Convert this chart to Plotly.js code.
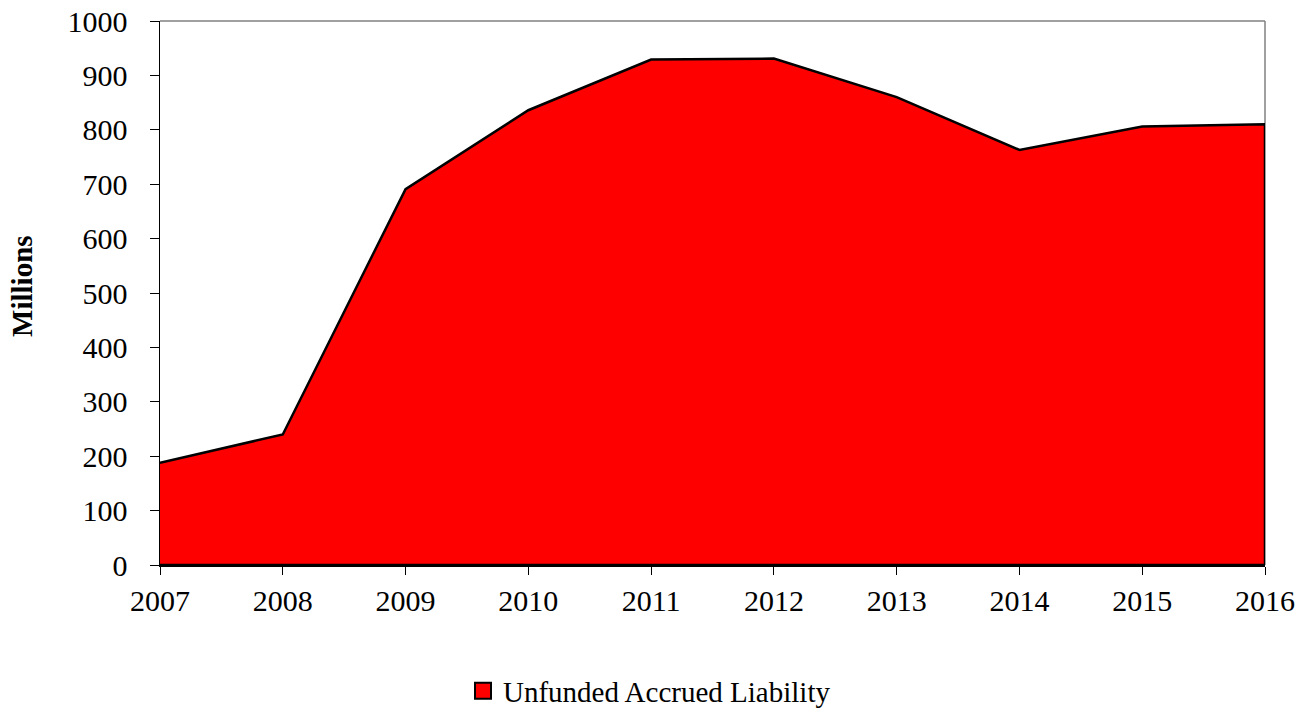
<!DOCTYPE html>
<html>
<head>
<meta charset="utf-8">
<script src="https://cdn.plot.ly/plotly-3.0.1.min.js"></script>
<style>
  html, body { margin: 0; padding: 0; background: #ffffff; }
  #chart { width: 1311px; height: 708px; }
</style>
</head>
<body>
<div id="chart"></div>
<script>
// Unfunded accrued liability by year, in millions
const years = [2007, 2008, 2009, 2010, 2011, 2012, 2013, 2014, 2015, 2016];
const liability = [188, 240, 691, 836, 929, 931, 860, 763, 806, 810];
const yTicks = [0, 100, 200, 300, 400, 500, 600, 700, 800, 900, 1000];
const seriesName = 'Unfunded Accrued Liability';
const yTitle = 'Millions';

const serif = 'Liberation Serif, Times New Roman, serif';

// Close the area back down to the baseline so its outline runs down the right edge
const first = years[0];
const last = years[years.length - 1];
const areaX = years.concat([last, first]);
const areaY = liability.concat([0, 0]);

const area = {
  x: areaX,
  y: areaY,
  type: 'scatter',
  mode: 'lines',
  fill: 'toself',
  fillcolor: '#ff0000',
  line: { color: '#000000', width: 2.5 },
  showlegend: false,
  hoverinfo: 'skip'
};

// Legend entry drawn as a square swatch
const legendKey = {
  x: [null],
  y: [null],
  type: 'scatter',
  mode: 'markers',
  name: seriesName,
  marker: { symbol: 'square', size: 16, color: '#ff0000', line: { color: '#000000', width: 2 } },
  showlegend: true
};

const layout = {
  width: 1311,
  height: 708,
  paper_bgcolor: '#ffffff',
  plot_bgcolor: '#ffffff',
  margin: { l: 160, r: 46, t: 21, b: 143, autoexpand: false },
  font: { family: serif, size: 30, color: '#000000' },
  showlegend: true,
  legend: {
    orientation: 'h',
    xref: 'container',
    yref: 'container',
    x: 463 / 1311,
    xanchor: 'left',
    y: 1 - 691 / 708,
    yanchor: 'middle',
    font: { family: serif, size: 29, color: '#000000' },
    bgcolor: 'rgba(0,0,0,0)',
    borderwidth: 0
  },
  xaxis: {
    range: [first, last],
    tickmode: 'array',
    tickvals: years,
    ticktext: years.map(String),
    ticks: 'outside',
    ticklen: 8,
    tickwidth: 1,
    tickcolor: '#000000',
    showline: true,
    linecolor: '#000000',
    linewidth: 1.5,
    showgrid: false,
    zeroline: false,
    tickfont: { family: serif, size: 30, color: '#000000' },
    fixedrange: true
  },
  yaxis: {
    range: [0, 1000],
    tickmode: 'array',
    tickvals: yTicks,
    ticktext: yTicks.map(String),
    ticks: 'outside',
    ticklen: 9,
    tickwidth: 1,
    tickcolor: '#000000',
    ticklabelstandoff: 16,
    showline: true,
    linecolor: '#000000',
    linewidth: 1.5,
    showgrid: false,
    zeroline: false,
    tickfont: { family: serif, size: 30, color: '#000000' },
    automargin: false,
    fixedrange: true
  },
  annotations: [
    // vertical axis caption, set left of the tick labels
    {
      text: '<b>' + yTitle + '</b>',
      xref: 'paper', yref: 'paper',
      x: 0, y: 0.513,
      xshift: -138,
      xanchor: 'center', yanchor: 'middle',
      textangle: -90,
      showarrow: false,
      font: { family: serif, size: 29, color: '#000000' }
    }
  ],
  shapes: [
    // top and right frame of the plot area
    {
      type: 'line', xref: 'paper', yref: 'paper',
      x0: 0, x1: 1, y0: 1, y1: 1,
      line: { color: '#808080', width: 1.5 }, layer: 'below'
    },
    {
      type: 'line', xref: 'paper', yref: 'paper',
      x0: 1, x1: 1, y0: 0, y1: 1,
      line: { color: '#808080', width: 1.5 }, layer: 'below'
    }
  ]
};

Plotly.newPlot('chart', [area, legendKey], layout, { displayModeBar: false, staticPlot: true });
</script>
</body>
</html>
